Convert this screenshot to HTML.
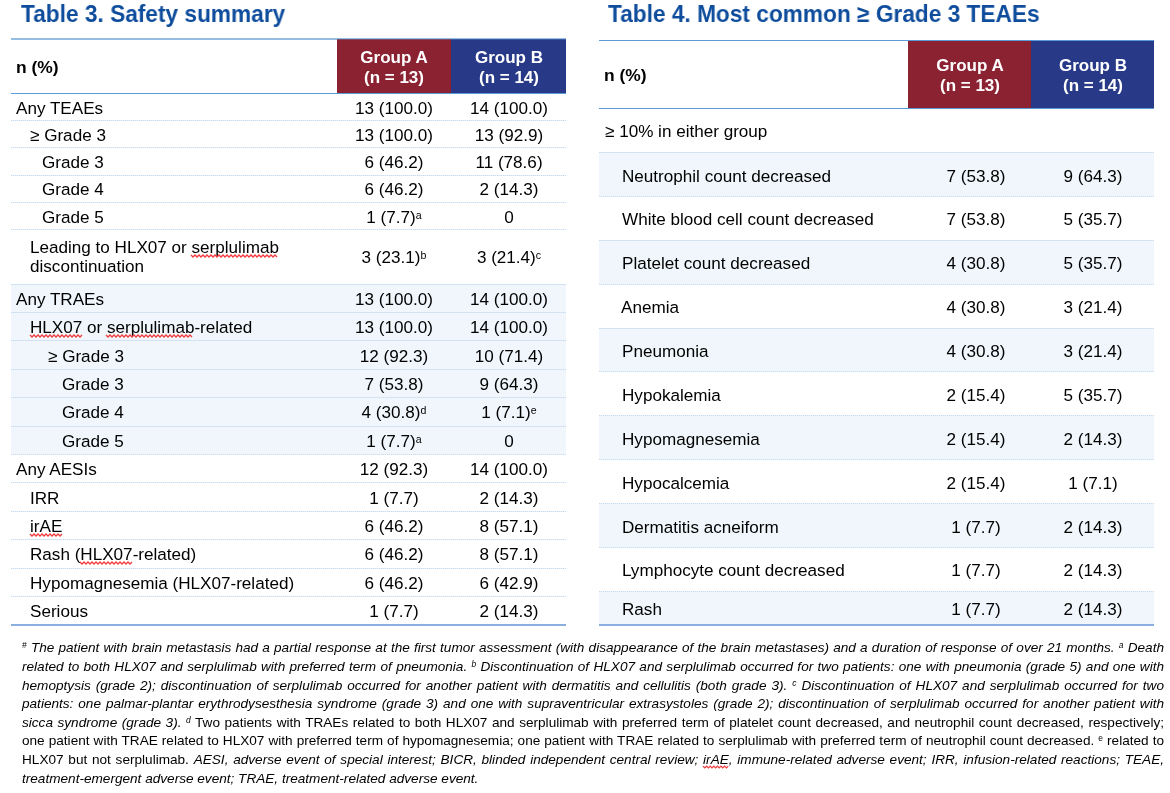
<!DOCTYPE html>
<html><head><meta charset="utf-8"><title>Safety summary</title>
<style>
html,body{margin:0;padding:0;background:#fff;}
body{width:1170px;height:793px;position:relative;overflow:hidden;font-family:'Liberation Sans', sans-serif;-webkit-font-smoothing:antialiased;}
.r{position:absolute;}
.t{position:absolute;white-space:nowrap;will-change:transform;}
.dl{position:absolute;height:1px;background:repeating-linear-gradient(90deg,#C6DAF0 0 1px,rgba(198,218,240,0.4) 1px 2px);}
.sup{font-size:62%;vertical-align:0.42em;line-height:0;}
.fn{position:absolute;will-change:transform;left:22px;width:1142px;font-size:13.6px;line-height:13.6px;white-space:nowrap;color:#000;}
.fn.j{white-space:normal;text-align:justify;text-align-last:justify;height:14px;}
.sqz{position:absolute;overflow:visible;}
</style></head><body>
<div class="t" style="left:20.5px;top:3px;font-size:23.6px;line-height:23.6px;font-weight:bold;color:#0E4C9C;font-style:normal;transform:scaleX(0.961);transform-origin:0 0;">Table 3. Safety summary</div><div class="t" style="left:607.5px;top:3px;font-size:23.6px;line-height:23.6px;font-weight:bold;color:#0E4C9C;font-style:normal;transform:scaleX(0.961);transform-origin:0 0;">Table 4. Most common ≥ Grade 3 TEAEs</div><div class="r" style="left:11px;top:38px;width:326px;height:2px;background:#95BDE2;"></div><div class="r" style="left:337px;top:39px;width:114px;height:54px;background:#8B2232;"></div><div class="r" style="left:451px;top:39px;width:115px;height:54px;background:#283A87;"></div><div class="r" style="left:337px;top:38px;width:229px;height:1px;background:#95BDE2;"></div><div class="r" style="left:337px;top:39px;width:229px;height:1px;background:rgba(91,155,213,0.35);"></div><div class="r" style="left:11px;top:93px;width:555px;height:1px;background:#5B9BD5;"></div><div class="t" style="left:16px;top:59px;font-size:17.4px;line-height:17.4px;font-weight:bold;color:#000;font-style:normal;">n (%)</div><div class="t" style="left:244.00px;width:300px;text-align:center;top:49px;font-size:17.0px;line-height:17.0px;font-weight:bold;color:#fff;font-style:normal;">Group A</div><div class="t" style="left:244.00px;width:300px;text-align:center;top:69px;font-size:17.0px;line-height:17.0px;font-weight:bold;color:#fff;font-style:normal;">(n = 13)</div><div class="t" style="left:358.50px;width:300px;text-align:center;top:49px;font-size:17.0px;line-height:17.0px;font-weight:bold;color:#fff;font-style:normal;">Group B</div><div class="t" style="left:358.50px;width:300px;text-align:center;top:69px;font-size:17.0px;line-height:17.0px;font-weight:bold;color:#fff;font-style:normal;">(n = 14)</div><div class="r" style="left:11px;top:284px;width:555px;height:170.2px;background:#F0F6FB;"></div><div class="t" style="left:16.3px;top:100px;font-size:17.1px;line-height:17.1px;font-weight:normal;color:#000;font-style:normal;">Any TEAEs</div><div class="t" style="left:244.00px;width:300px;text-align:center;top:100px;font-size:17.1px;line-height:17.1px;font-weight:normal;color:#000;font-style:normal;">13 (100.0)</div><div class="t" style="left:358.50px;width:300px;text-align:center;top:100px;font-size:17.1px;line-height:17.1px;font-weight:normal;color:#000;font-style:normal;">14 (100.0)</div><div class="dl" style="left:11px;top:120px;width:555px"></div><div class="t" style="left:29.5px;top:127px;font-size:17.1px;line-height:17.1px;font-weight:normal;color:#000;font-style:normal;">≥ Grade 3</div><div class="t" style="left:244.00px;width:300px;text-align:center;top:127px;font-size:17.1px;line-height:17.1px;font-weight:normal;color:#000;font-style:normal;">13 (100.0)</div><div class="t" style="left:358.50px;width:300px;text-align:center;top:127px;font-size:17.1px;line-height:17.1px;font-weight:normal;color:#000;font-style:normal;">13 (92.9)</div><div class="dl" style="left:11px;top:147px;width:555px"></div><div class="t" style="left:42.3px;top:154px;font-size:17.1px;line-height:17.1px;font-weight:normal;color:#000;font-style:normal;">Grade 3</div><div class="t" style="left:244.00px;width:300px;text-align:center;top:154px;font-size:17.1px;line-height:17.1px;font-weight:normal;color:#000;font-style:normal;">6 (46.2)</div><div class="t" style="left:358.50px;width:300px;text-align:center;top:154px;font-size:17.1px;line-height:17.1px;font-weight:normal;color:#000;font-style:normal;">11 (78.6)</div><div class="dl" style="left:11px;top:175px;width:555px"></div><div class="t" style="left:42.3px;top:181px;font-size:17.1px;line-height:17.1px;font-weight:normal;color:#000;font-style:normal;">Grade 4</div><div class="t" style="left:244.00px;width:300px;text-align:center;top:181px;font-size:17.1px;line-height:17.1px;font-weight:normal;color:#000;font-style:normal;">6 (46.2)</div><div class="t" style="left:358.50px;width:300px;text-align:center;top:181px;font-size:17.1px;line-height:17.1px;font-weight:normal;color:#000;font-style:normal;">2 (14.3)</div><div class="dl" style="left:11px;top:202px;width:555px"></div><div class="t" style="left:42.3px;top:209px;font-size:17.1px;line-height:17.1px;font-weight:normal;color:#000;font-style:normal;">Grade 5</div><div class="t" style="left:244.00px;width:300px;text-align:center;top:209px;font-size:17.1px;line-height:17.1px;font-weight:normal;color:#000;font-style:normal;">1 (7.7)<span class="sup">a</span></div><div class="t" style="left:358.50px;width:300px;text-align:center;top:209px;font-size:17.1px;line-height:17.1px;font-weight:normal;color:#000;font-style:normal;">0</div><div class="dl" style="left:11px;top:229px;width:555px"></div><div class="t" style="left:29.5px;top:239px;font-size:17.1px;line-height:17.1px;font-weight:normal;color:#000;font-style:normal;">Leading to HLX07 or <span class="sq" id="sq1">serplulimab</span></div><div class="t" style="left:29.5px;top:258px;font-size:17.1px;line-height:17.1px;font-weight:normal;color:#000;font-style:normal;">discontinuation</div><div class="t" style="left:244.00px;width:300px;text-align:center;top:249px;font-size:17.1px;line-height:17.1px;font-weight:normal;color:#000;font-style:normal;">3 (23.1)<span class="sup">b</span></div><div class="t" style="left:358.50px;width:300px;text-align:center;top:249px;font-size:17.1px;line-height:17.1px;font-weight:normal;color:#000;font-style:normal;">3 (21.4)<span class="sup">c</span></div><div class="dl" style="left:11px;top:284px;width:555px"></div><div class="t" style="left:16.3px;top:291px;font-size:17.1px;line-height:17.1px;font-weight:normal;color:#000;font-style:normal;">Any TRAEs</div><div class="t" style="left:244.00px;width:300px;text-align:center;top:291px;font-size:17.1px;line-height:17.1px;font-weight:normal;color:#000;font-style:normal;">13 (100.0)</div><div class="t" style="left:358.50px;width:300px;text-align:center;top:291px;font-size:17.1px;line-height:17.1px;font-weight:normal;color:#000;font-style:normal;">14 (100.0)</div><div class="dl" style="left:11px;top:312px;width:555px"></div><div class="t" style="left:29.5px;top:319px;font-size:17.1px;line-height:17.1px;font-weight:normal;color:#000;font-style:normal;"><span class="sq" id="sq2">HLX07</span> or <span class="sq" id="sq3">serplulimab</span>-related</div><div class="t" style="left:244.00px;width:300px;text-align:center;top:319px;font-size:17.1px;line-height:17.1px;font-weight:normal;color:#000;font-style:normal;">13 (100.0)</div><div class="t" style="left:358.50px;width:300px;text-align:center;top:319px;font-size:17.1px;line-height:17.1px;font-weight:normal;color:#000;font-style:normal;">14 (100.0)</div><div class="dl" style="left:11px;top:340px;width:555px"></div><div class="t" style="left:48px;top:348px;font-size:17.1px;line-height:17.1px;font-weight:normal;color:#000;font-style:normal;">≥ Grade 3</div><div class="t" style="left:244.00px;width:300px;text-align:center;top:348px;font-size:17.1px;line-height:17.1px;font-weight:normal;color:#000;font-style:normal;">12 (92.3)</div><div class="t" style="left:358.50px;width:300px;text-align:center;top:348px;font-size:17.1px;line-height:17.1px;font-weight:normal;color:#000;font-style:normal;">10 (71.4)</div><div class="dl" style="left:11px;top:369px;width:555px"></div><div class="t" style="left:62px;top:376px;font-size:17.1px;line-height:17.1px;font-weight:normal;color:#000;font-style:normal;">Grade 3</div><div class="t" style="left:244.00px;width:300px;text-align:center;top:376px;font-size:17.1px;line-height:17.1px;font-weight:normal;color:#000;font-style:normal;">7 (53.8)</div><div class="t" style="left:358.50px;width:300px;text-align:center;top:376px;font-size:17.1px;line-height:17.1px;font-weight:normal;color:#000;font-style:normal;">9 (64.3)</div><div class="dl" style="left:11px;top:397px;width:555px"></div><div class="t" style="left:62px;top:404px;font-size:17.1px;line-height:17.1px;font-weight:normal;color:#000;font-style:normal;">Grade 4</div><div class="t" style="left:244.00px;width:300px;text-align:center;top:404px;font-size:17.1px;line-height:17.1px;font-weight:normal;color:#000;font-style:normal;">4 (30.8)<span class="sup">d</span></div><div class="t" style="left:358.50px;width:300px;text-align:center;top:404px;font-size:17.1px;line-height:17.1px;font-weight:normal;color:#000;font-style:normal;">1 (7.1)<span class="sup">e</span></div><div class="dl" style="left:11px;top:426px;width:555px"></div><div class="t" style="left:62px;top:433px;font-size:17.1px;line-height:17.1px;font-weight:normal;color:#000;font-style:normal;">Grade 5</div><div class="t" style="left:244.00px;width:300px;text-align:center;top:433px;font-size:17.1px;line-height:17.1px;font-weight:normal;color:#000;font-style:normal;">1 (7.7)<span class="sup">a</span></div><div class="t" style="left:358.50px;width:300px;text-align:center;top:433px;font-size:17.1px;line-height:17.1px;font-weight:normal;color:#000;font-style:normal;">0</div><div class="dl" style="left:11px;top:454px;width:555px"></div><div class="t" style="left:16.3px;top:461px;font-size:17.1px;line-height:17.1px;font-weight:normal;color:#000;font-style:normal;">Any AESIs</div><div class="t" style="left:244.00px;width:300px;text-align:center;top:461px;font-size:17.1px;line-height:17.1px;font-weight:normal;color:#000;font-style:normal;">12 (92.3)</div><div class="t" style="left:358.50px;width:300px;text-align:center;top:461px;font-size:17.1px;line-height:17.1px;font-weight:normal;color:#000;font-style:normal;">14 (100.0)</div><div class="dl" style="left:11px;top:482px;width:555px"></div><div class="t" style="left:29.5px;top:490px;font-size:17.1px;line-height:17.1px;font-weight:normal;color:#000;font-style:normal;">IRR</div><div class="t" style="left:244.00px;width:300px;text-align:center;top:490px;font-size:17.1px;line-height:17.1px;font-weight:normal;color:#000;font-style:normal;">1 (7.7)</div><div class="t" style="left:358.50px;width:300px;text-align:center;top:490px;font-size:17.1px;line-height:17.1px;font-weight:normal;color:#000;font-style:normal;">2 (14.3)</div><div class="dl" style="left:11px;top:511px;width:555px"></div><div class="t" style="left:29.5px;top:518px;font-size:17.1px;line-height:17.1px;font-weight:normal;color:#000;font-style:normal;"><span class="sq" id="sq4">irAE</span></div><div class="t" style="left:244.00px;width:300px;text-align:center;top:518px;font-size:17.1px;line-height:17.1px;font-weight:normal;color:#000;font-style:normal;">6 (46.2)</div><div class="t" style="left:358.50px;width:300px;text-align:center;top:518px;font-size:17.1px;line-height:17.1px;font-weight:normal;color:#000;font-style:normal;">8 (57.1)</div><div class="dl" style="left:11px;top:539px;width:555px"></div><div class="t" style="left:29.5px;top:546px;font-size:17.1px;line-height:17.1px;font-weight:normal;color:#000;font-style:normal;">Rash (<span class="sq" id="sq5">HLX07</span>-related)</div><div class="t" style="left:244.00px;width:300px;text-align:center;top:546px;font-size:17.1px;line-height:17.1px;font-weight:normal;color:#000;font-style:normal;">6 (46.2)</div><div class="t" style="left:358.50px;width:300px;text-align:center;top:546px;font-size:17.1px;line-height:17.1px;font-weight:normal;color:#000;font-style:normal;">8 (57.1)</div><div class="dl" style="left:11px;top:568px;width:555px"></div><div class="t" style="left:29.5px;top:575px;font-size:17.1px;line-height:17.1px;font-weight:normal;color:#000;font-style:normal;">Hypomagnesemia (HLX07-related)</div><div class="t" style="left:244.00px;width:300px;text-align:center;top:575px;font-size:17.1px;line-height:17.1px;font-weight:normal;color:#000;font-style:normal;">6 (46.2)</div><div class="t" style="left:358.50px;width:300px;text-align:center;top:575px;font-size:17.1px;line-height:17.1px;font-weight:normal;color:#000;font-style:normal;">6 (42.9)</div><div class="dl" style="left:11px;top:596px;width:555px"></div><div class="t" style="left:29.5px;top:603px;font-size:17.1px;line-height:17.1px;font-weight:normal;color:#000;font-style:normal;">Serious</div><div class="t" style="left:244.00px;width:300px;text-align:center;top:603px;font-size:17.1px;line-height:17.1px;font-weight:normal;color:#000;font-style:normal;">1 (7.7)</div><div class="t" style="left:358.50px;width:300px;text-align:center;top:603px;font-size:17.1px;line-height:17.1px;font-weight:normal;color:#000;font-style:normal;">2 (14.3)</div><div class="r" style="left:11px;top:624px;width:555px;height:2px;background:#8AAEDD;"></div><div class="r" style="left:908px;top:41px;width:123px;height:67px;background:#8B2232;"></div><div class="r" style="left:1031px;top:41px;width:123px;height:67px;background:#283A87;"></div><div class="r" style="left:599px;top:40px;width:555px;height:1px;background:#5B9BD5;"></div><div class="r" style="left:599px;top:108px;width:555px;height:1px;background:#5B9BD5;"></div><div class="t" style="left:604px;top:67px;font-size:17.4px;line-height:17.4px;font-weight:bold;color:#000;font-style:normal;">n (%)</div><div class="t" style="left:819.50px;width:300px;text-align:center;top:57px;font-size:17.0px;line-height:17.0px;font-weight:bold;color:#fff;font-style:normal;">Group A</div><div class="t" style="left:819.50px;width:300px;text-align:center;top:77px;font-size:17.0px;line-height:17.0px;font-weight:bold;color:#fff;font-style:normal;">(n = 13)</div><div class="t" style="left:942.50px;width:300px;text-align:center;top:57px;font-size:17.0px;line-height:17.0px;font-weight:bold;color:#fff;font-style:normal;">Group B</div><div class="t" style="left:942.50px;width:300px;text-align:center;top:77px;font-size:17.0px;line-height:17.0px;font-weight:bold;color:#fff;font-style:normal;">(n = 14)</div><div class="r" style="left:599px;top:152px;width:555px;height:44px;background:#F0F6FB;"></div><div class="r" style="left:599px;top:240px;width:555px;height:44px;background:#F0F6FB;"></div><div class="r" style="left:599px;top:328px;width:555px;height:43px;background:#F0F6FB;"></div><div class="r" style="left:599px;top:416px;width:555px;height:43px;background:#F0F6FB;"></div><div class="r" style="left:599px;top:504px;width:555px;height:43px;background:#F0F6FB;"></div><div class="r" style="left:599px;top:592px;width:555px;height:32px;background:#F0F6FB;"></div><div class="t" style="left:604.5px;top:123px;font-size:17.1px;line-height:17.1px;font-weight:normal;color:#000;font-style:normal;">≥ 10% in either group</div><div class="dl" style="left:599px;top:152px;width:555px"></div><div class="t" style="left:622px;top:168px;font-size:17.1px;line-height:17.1px;font-weight:normal;color:#000;font-style:normal;">Neutrophil count decreased</div><div class="t" style="left:826.00px;width:300px;text-align:center;top:168px;font-size:17.1px;line-height:17.1px;font-weight:normal;color:#000;font-style:normal;">7 (53.8)</div><div class="t" style="left:942.50px;width:300px;text-align:center;top:168px;font-size:17.1px;line-height:17.1px;font-weight:normal;color:#000;font-style:normal;">9 (64.3)</div><div class="dl" style="left:599px;top:196px;width:555px"></div><div class="t" style="left:622px;top:211px;font-size:17.1px;line-height:17.1px;font-weight:normal;color:#000;font-style:normal;">White blood cell count decreased</div><div class="t" style="left:826.00px;width:300px;text-align:center;top:211px;font-size:17.1px;line-height:17.1px;font-weight:normal;color:#000;font-style:normal;">7 (53.8)</div><div class="t" style="left:942.50px;width:300px;text-align:center;top:211px;font-size:17.1px;line-height:17.1px;font-weight:normal;color:#000;font-style:normal;">5 (35.7)</div><div class="dl" style="left:599px;top:240px;width:555px"></div><div class="t" style="left:622px;top:255px;font-size:17.1px;line-height:17.1px;font-weight:normal;color:#000;font-style:normal;">Platelet count decreased</div><div class="t" style="left:826.00px;width:300px;text-align:center;top:255px;font-size:17.1px;line-height:17.1px;font-weight:normal;color:#000;font-style:normal;">4 (30.8)</div><div class="t" style="left:942.50px;width:300px;text-align:center;top:255px;font-size:17.1px;line-height:17.1px;font-weight:normal;color:#000;font-style:normal;">5 (35.7)</div><div class="dl" style="left:599px;top:284px;width:555px"></div><div class="t" style="left:621px;top:299px;font-size:17.1px;line-height:17.1px;font-weight:normal;color:#000;font-style:normal;">Anemia</div><div class="t" style="left:826.00px;width:300px;text-align:center;top:299px;font-size:17.1px;line-height:17.1px;font-weight:normal;color:#000;font-style:normal;">4 (30.8)</div><div class="t" style="left:942.50px;width:300px;text-align:center;top:299px;font-size:17.1px;line-height:17.1px;font-weight:normal;color:#000;font-style:normal;">3 (21.4)</div><div class="dl" style="left:599px;top:328px;width:555px"></div><div class="t" style="left:622px;top:343px;font-size:17.1px;line-height:17.1px;font-weight:normal;color:#000;font-style:normal;">Pneumonia</div><div class="t" style="left:826.00px;width:300px;text-align:center;top:343px;font-size:17.1px;line-height:17.1px;font-weight:normal;color:#000;font-style:normal;">4 (30.8)</div><div class="t" style="left:942.50px;width:300px;text-align:center;top:343px;font-size:17.1px;line-height:17.1px;font-weight:normal;color:#000;font-style:normal;">3 (21.4)</div><div class="dl" style="left:599px;top:371px;width:555px"></div><div class="t" style="left:622px;top:387px;font-size:17.1px;line-height:17.1px;font-weight:normal;color:#000;font-style:normal;">Hypokalemia</div><div class="t" style="left:826.00px;width:300px;text-align:center;top:387px;font-size:17.1px;line-height:17.1px;font-weight:normal;color:#000;font-style:normal;">2 (15.4)</div><div class="t" style="left:942.50px;width:300px;text-align:center;top:387px;font-size:17.1px;line-height:17.1px;font-weight:normal;color:#000;font-style:normal;">5 (35.7)</div><div class="dl" style="left:599px;top:415px;width:555px"></div><div class="t" style="left:622px;top:431px;font-size:17.1px;line-height:17.1px;font-weight:normal;color:#000;font-style:normal;">Hypomagnesemia</div><div class="t" style="left:826.00px;width:300px;text-align:center;top:431px;font-size:17.1px;line-height:17.1px;font-weight:normal;color:#000;font-style:normal;">2 (15.4)</div><div class="t" style="left:942.50px;width:300px;text-align:center;top:431px;font-size:17.1px;line-height:17.1px;font-weight:normal;color:#000;font-style:normal;">2 (14.3)</div><div class="dl" style="left:599px;top:459px;width:555px"></div><div class="t" style="left:622px;top:475px;font-size:17.1px;line-height:17.1px;font-weight:normal;color:#000;font-style:normal;">Hypocalcemia</div><div class="t" style="left:826.00px;width:300px;text-align:center;top:475px;font-size:17.1px;line-height:17.1px;font-weight:normal;color:#000;font-style:normal;">2 (15.4)</div><div class="t" style="left:942.50px;width:300px;text-align:center;top:475px;font-size:17.1px;line-height:17.1px;font-weight:normal;color:#000;font-style:normal;">1 (7.1)</div><div class="dl" style="left:599px;top:503px;width:555px"></div><div class="t" style="left:622px;top:519px;font-size:17.1px;line-height:17.1px;font-weight:normal;color:#000;font-style:normal;">Dermatitis acneiform</div><div class="t" style="left:826.00px;width:300px;text-align:center;top:519px;font-size:17.1px;line-height:17.1px;font-weight:normal;color:#000;font-style:normal;">1 (7.7)</div><div class="t" style="left:942.50px;width:300px;text-align:center;top:519px;font-size:17.1px;line-height:17.1px;font-weight:normal;color:#000;font-style:normal;">2 (14.3)</div><div class="dl" style="left:599px;top:547px;width:555px"></div><div class="t" style="left:622px;top:562px;font-size:17.1px;line-height:17.1px;font-weight:normal;color:#000;font-style:normal;">Lymphocyte count decreased</div><div class="t" style="left:826.00px;width:300px;text-align:center;top:562px;font-size:17.1px;line-height:17.1px;font-weight:normal;color:#000;font-style:normal;">1 (7.7)</div><div class="t" style="left:942.50px;width:300px;text-align:center;top:562px;font-size:17.1px;line-height:17.1px;font-weight:normal;color:#000;font-style:normal;">2 (14.3)</div><div class="dl" style="left:599px;top:591px;width:555px"></div><div class="t" style="left:622px;top:601px;font-size:17.1px;line-height:17.1px;font-weight:normal;color:#000;font-style:normal;">Rash</div><div class="t" style="left:826.00px;width:300px;text-align:center;top:601px;font-size:17.1px;line-height:17.1px;font-weight:normal;color:#000;font-style:normal;">1 (7.7)</div><div class="t" style="left:942.50px;width:300px;text-align:center;top:601px;font-size:17.1px;line-height:17.1px;font-weight:normal;color:#000;font-style:normal;">2 (14.3)</div><div class="r" style="left:599px;top:624px;width:555px;height:2px;background:#8AAEDD;"></div><div class="fn j" style="top:641px"><i><span class="sup">#</span> The patient with brain metastasis had a partial response at the first tumor assessment (with disappearance of the brain metastases) and a duration of response of over 21 months. <span class="sup">a</span> Death</i></div><div class="fn j" style="top:660px"><i>related to both HLX07 and serplulimab with preferred term of pneumonia. <span class="sup">b</span> Discontinuation of HLX07 and serplulimab occurred for two patients: one with pneumonia (grade 5) and one with</i></div><div class="fn j" style="top:679px"><i>hemoptysis (grade 2); discontinuation of serplulimab occurred for another patient with dermatitis and cellulitis (both grade 3). <span class="sup">c</span> Discontinuation of HLX07 and serplulimab occurred for two</i></div><div class="fn j" style="top:697px"><i>patients: one palmar-plantar erythrodysesthesia syndrome (grade 3) and one with supraventricular extrasystoles (grade 2); discontinuation of serplulimab occurred for another patient with</i></div><div class="fn j" style="top:716px"><i>sicca syndrome (grade 3). <span class="sup">d</span></i> Two patients with TRAEs related to both HLX07 and serplulimab with preferred term of platelet count decreased, and neutrophil count decreased, respectively;</div><div class="fn j" style="top:734px">one patient with TRAE related to HLX07 with preferred term of hypomagnesemia; one patient with TRAE related to serplulimab with preferred term of neutrophil count decreased. <span class="sup">e</span> related to</div><div class="fn j" style="top:753px">HLX07 but not serplulimab. <i>AESI, adverse event of special interest; BICR, blinded independent central review; <span class="sq" id="sq6">irAE</span>, immune-related adverse event; IRR, infusion-related reactions; TEAE,</i></div><div class="fn" style="top:772px"><i>treatment-emergent adverse event; TRAE, treatment-related adverse event.</i></div>
<svg class="sqz" style="left:191.06px;top:252.90px" width="87.41" height="6"><polyline points="0.00,2.00 2.00,4.00 4.00,2.00 6.00,4.00 8.00,2.00 10.00,4.00 12.00,2.00 14.00,4.00 16.00,2.00 18.00,4.00 20.00,2.00 22.00,4.00 24.00,2.00 26.00,4.00 28.00,2.00 30.00,4.00 32.00,2.00 34.00,4.00 36.00,2.00 38.00,4.00 40.00,2.00 42.00,4.00 44.00,2.00 46.00,4.00 48.00,2.00 50.00,4.00 52.00,2.00 54.00,4.00 56.00,2.00 58.00,4.00 60.00,2.00 62.00,4.00 64.00,2.00 66.00,4.00 68.00,2.00 70.00,4.00 72.00,2.00 74.00,4.00 76.00,2.00 78.00,4.00 80.00,2.00 82.00,4.00 84.00,2.00 86.00,4.00" fill="none" stroke="#F03C3C" stroke-width="1.3"/></svg><svg class="sqz" style="left:29.50px;top:332.90px" width="52.28" height="6"><polyline points="0.00,2.00 2.00,4.00 4.00,2.00 6.00,4.00 8.00,2.00 10.00,4.00 12.00,2.00 14.00,4.00 16.00,2.00 18.00,4.00 20.00,2.00 22.00,4.00 24.00,2.00 26.00,4.00 28.00,2.00 30.00,4.00 32.00,2.00 34.00,4.00 36.00,2.00 38.00,4.00 40.00,2.00 42.00,4.00 44.00,2.00 46.00,4.00 48.00,2.00 50.00,4.00 52.00,2.00" fill="none" stroke="#F03C3C" stroke-width="1.3"/></svg><svg class="sqz" style="left:106.48px;top:332.90px" width="87.41" height="6"><polyline points="0.00,2.00 2.00,4.00 4.00,2.00 6.00,4.00 8.00,2.00 10.00,4.00 12.00,2.00 14.00,4.00 16.00,2.00 18.00,4.00 20.00,2.00 22.00,4.00 24.00,2.00 26.00,4.00 28.00,2.00 30.00,4.00 32.00,2.00 34.00,4.00 36.00,2.00 38.00,4.00 40.00,2.00 42.00,4.00 44.00,2.00 46.00,4.00 48.00,2.00 50.00,4.00 52.00,2.00 54.00,4.00 56.00,2.00 58.00,4.00 60.00,2.00 62.00,4.00 64.00,2.00 66.00,4.00 68.00,2.00 70.00,4.00 72.00,2.00 74.00,4.00 76.00,2.00 78.00,4.00 80.00,2.00 82.00,4.00 84.00,2.00 86.00,4.00" fill="none" stroke="#F03C3C" stroke-width="1.3"/></svg><svg class="sqz" style="left:29.50px;top:531.90px" width="32.30" height="6"><polyline points="0.00,2.00 2.00,4.00 4.00,2.00 6.00,4.00 8.00,2.00 10.00,4.00 12.00,2.00 14.00,4.00 16.00,2.00 18.00,4.00 20.00,2.00 22.00,4.00 24.00,2.00 26.00,4.00 28.00,2.00 30.00,4.00 32.00,2.00" fill="none" stroke="#F03C3C" stroke-width="1.3"/></svg><svg class="sqz" style="left:79.86px;top:559.90px" width="52.28" height="6"><polyline points="0.00,2.00 2.00,4.00 4.00,2.00 6.00,4.00 8.00,2.00 10.00,4.00 12.00,2.00 14.00,4.00 16.00,2.00 18.00,4.00 20.00,2.00 22.00,4.00 24.00,2.00 26.00,4.00 28.00,2.00 30.00,4.00 32.00,2.00 34.00,4.00 36.00,2.00 38.00,4.00 40.00,2.00 42.00,4.00 44.00,2.00 46.00,4.00 48.00,2.00 50.00,4.00 52.00,2.00" fill="none" stroke="#F03C3C" stroke-width="1.3"/></svg><svg class="sqz" style="left:703.09px;top:763.60px" width="25.69" height="6"><polyline points="0.00,2.10 1.80,3.90 3.60,2.10 5.40,3.90 7.20,2.10 9.00,3.90 10.80,2.10 12.60,3.90 14.40,2.10 16.20,3.90 18.00,2.10 19.80,3.90 21.60,2.10 23.40,3.90 25.20,2.10" fill="none" stroke="#F03C3C" stroke-width="1.3"/></svg>
</body></html>
